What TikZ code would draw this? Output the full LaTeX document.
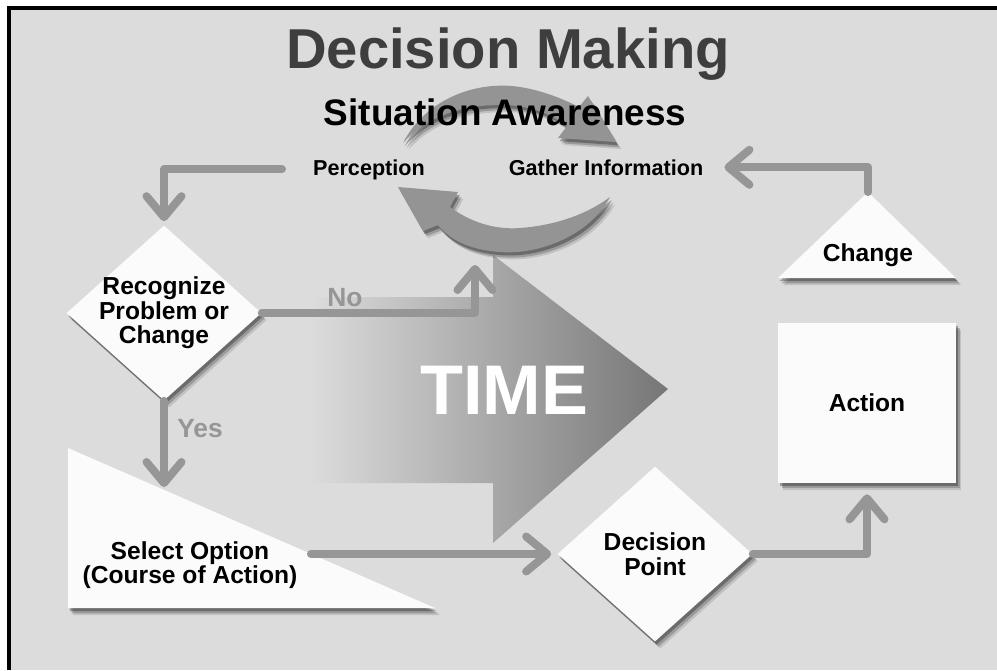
\documentclass[tikz,border=0pt]{standalone}
\usepackage{fontspec}
\setmainfont{Liberation Sans}
\usepackage{tikz}
\usetikzlibrary{shapes.geometric, shadows, arrows.meta}

\definecolor{bggray}{RGB}{220,220,220}
\definecolor{flowgray}{RGB}{150,150,150}
\definecolor{titlegray}{RGB}{62,62,62}
\definecolor{shapewhite}{RGB}{251,251,251}
\definecolor{timegray}{RGB}{118,118,118}
\definecolor{cyclegray}{RGB}{148,148,148}

\tikzset{
    txt/.style={font=\bfseries\fontsize{14}{14}\selectfont, align=center, inner sep=0pt},
    shadowed/.style={
        drop shadow={shadow xshift=3pt, shadow yshift=-4pt, opacity=0.12, fill=black},
        drop shadow={shadow xshift=2pt, shadow yshift=-3pt, opacity=0.2, fill=black},
        drop shadow={shadow xshift=1pt, shadow yshift=-1.8pt, opacity=0.3, fill=black}},
    panel/.style={txt, fill=shapewhite, shadowed},
    decision/.style={panel, diamond, aspect=1.1, inner sep=-3pt},
    flow/.style={draw=flowgray, line width=0.16cm, line cap=round, line join=round,
        -{Straight Barb[length=0.42cm, width=0.7cm, round]}},
    branch/.style={font=\bfseries\fontsize{15}{15}\selectfont, text=flowgray, inner sep=0pt},
}

\begin{document}
\begin{tikzpicture}[x=0.02cm, y=-0.02cm]
    \useasboundingbox (0,0) rectangle (997,670);

    \fill[white] (0,0) rectangle (997,670);
    \fill[bggray] (9,8) rectangle (997,670);
    \draw[line width=0.08cm] (997,8) -- (9,8) -- (9,670);
    \shade[left color=bggray, right color=timegray] (310,297) -- (493,297) -- (493,255) -- (668,389)
        -- (493,543) -- (493,483) -- (310,483) -- cycle;

    \fill[cyclegray, shadowed] (403,143) .. controls (425,100) and (475,80) .. (520,87)
        .. controls (545,91) and (565,100) .. (579,107) -- (588,96) -- (616,142) -- (558,138) -- (567,126)
        .. controls (550,113) and (530,106) .. (505,105) .. controls (460,104) and (425,118) .. cycle;
    \fill[cyclegray, shadowed] (610,197) .. controls (590,235) and (540,255) .. (500,252)
        .. controls (470,250) and (450,240) .. (438,225) -- (423,231) -- (398,187) -- (458,192) -- (450,207)
        .. controls (470,222) and (495,230) .. (520,228) .. controls (560,225) and (590,212) .. cycle;

    \coordinate (chgtop) at (868,192);
    \coordinate (yestip) at (164,487);
    \coordinate (notip) at (475,265);
    \coordinate (selhyp) at (311,554);

    \fill[shapewhite, shadowed] (68,448) -- (435,608) -- (68,608) -- cycle;
    \fill[shapewhite, shadowed] (chgtop) -- (956,278) -- (778,278) -- cycle;

    \node[font=\bfseries\fontsize{32}{32}\selectfont, text=titlegray, anchor=base] (title) at (508,68) {Decision Making};
    \node[font=\bfseries\fontsize{21}{21}\selectfont, anchor=base] (aware) at (505,125) {Situation Awareness};
    \node[font=\bfseries\fontsize{12.3}{12.3}\selectfont, anchor=base] (perc) at (369,175) {Perception};
    \node[font=\bfseries\fontsize{12.3}{12.3}\selectfont, anchor=base] (gather) at (606,175) {Gather Information};
    \node[font=\bfseries\fontsize{40}{40}\selectfont, text=white, anchor=base] (time) at (504,414) {TIME};

    \node[decision, minimum width=3.9cm, minimum height=3.5cm] (recog) at (164,313) {Recognize\\Problem or\\Change};
    \node[decision, minimum width=3.9cm, minimum height=3.5cm] (dec) at (655,554) {Decision\\Point};
    \node[panel, minimum width=3.56cm, minimum height=3.2cm] (act) at (867,403) {Action};
    \node[txt] (select) at (190,565) {Select Option\\(Course of Action)};
    \node[txt] (change) at (868,255) {Change};

    \node[branch, anchor=base] (no) at (345,306) {No};
    \node[branch, anchor=base] (yes) at (200,437) {Yes};

    \draw[flow] ([xshift=-0.5cm]perc.west) -| ([yshift=0.08cm]recog.north);
    \draw[flow] (recog.east) -| (notip);
    \draw[flow] (recog.south) -- (yestip);
    \draw[flow] (selhyp) -- ([xshift=-0.12cm]dec.west);
    \draw[flow] (dec.east) -| ([yshift=-0.22cm]act.south);
    \draw[flow] (chgtop) |- ([xshift=0.3cm]gather.east);
\end{tikzpicture}
\end{document}
